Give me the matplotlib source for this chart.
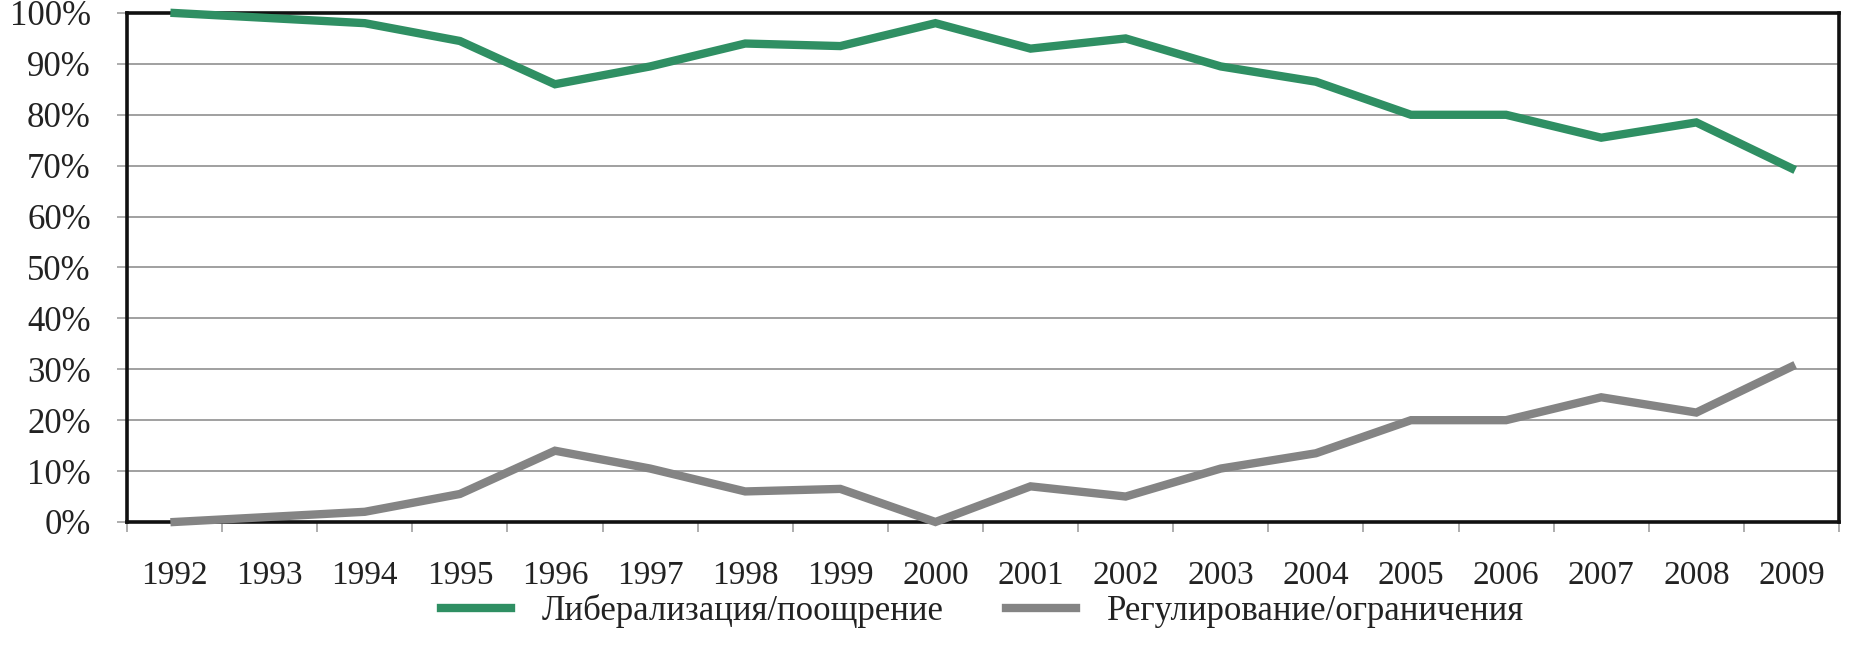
import matplotlib
matplotlib.use("Agg")
import matplotlib.pyplot as plt
from matplotlib.ticker import FixedLocator, PercentFormatter

years = ["1992", "1993", "1994", "1995", "1996", "1997", "1998", "1999", "2000",
         "2001", "2002", "2003", "2004", "2005", "2006", "2007", "2008", "2009"]
liberalization = [100, 99, 98, 94.5, 86, 89.5, 94, 93.5, 98, 93, 95, 89.5, 86.5,
                  80, 80, 75.5, 78.5, 69.5]
regulation = [0, 1, 2, 5.5, 14, 10.5, 6, 6.5, 0, 7, 5, 10.5, 13.5, 20, 20, 24.5,
              21.5, 30.5]
series_labels = ["Либерализация/поощрение", "Регулирование/ограничения"]
y_ticks = [0, 10, 20, 30, 40, 50, 60, 70, 80, 90, 100]

plt.rcParams["font.family"] = ["Liberation Serif", "DejaVu Serif"]

fig = plt.figure(figsize=(18.54, 6.63), dpi=100)
ax = fig.add_axes([0.0685, 0.2127, 0.9234, 0.7677])

x = list(range(len(years)))
ax.plot(x, liberalization, color="#2f8f63", lw=6, solid_joinstyle="miter",
        label=series_labels[0], zorder=4, clip_on=False)
ax.plot(x, regulation, color="#848484", lw=6, solid_joinstyle="miter",
        label=series_labels[1], zorder=4, clip_on=False)

ax.set_xlim(-0.5, len(years) - 0.5)
ax.set_ylim(0, 100)

ax.set_yticks(y_ticks)
ax.yaxis.set_major_formatter(PercentFormatter(decimals=0))
ax.grid(axis="y", color="#a0a0a0", lw=1.4, zorder=1)
ax.tick_params(axis="y", length=7, width=1.2, color="#a0a0a0", pad=19,
               labelsize=25, labelcolor="#222222")

ax.set_xticks(x)
ax.set_xticklabels(years)
ax.xaxis.set_minor_locator(FixedLocator([i - 0.5 for i in range(len(years) + 1)]))
ax.tick_params(axis="x", which="major", length=0, pad=28, labelsize=24,
               labelcolor="#222222")
ax.tick_params(axis="x", which="minor", length=7, width=1.2, color="#a0a0a0")

for side in ["left", "right", "top", "bottom"]:
    ax.spines[side].set_linewidth(2.6)
    ax.spines[side].set_color("#111111")
    ax.spines[side].set_zorder(3)

fig.legend(loc="center", bbox_to_anchor=(0.53, 0.078), ncol=2, frameon=False,
           fontsize=25, handlelength=2.0, handletextpad=0.9, columnspacing=1.8,
           labelcolor="#222222")

fig.savefig("out.png", dpi=100, facecolor="white")
